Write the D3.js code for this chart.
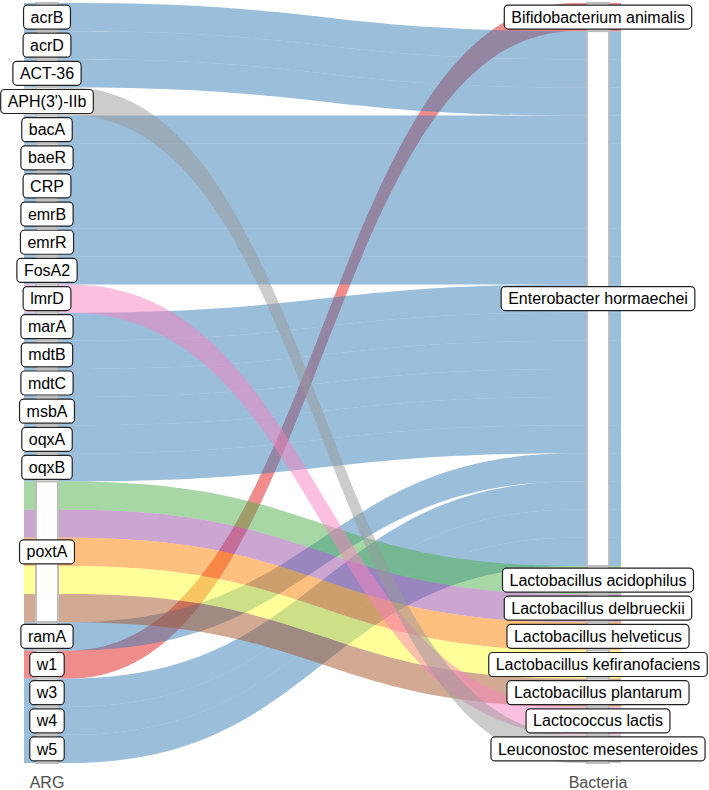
<!DOCTYPE html>
<html>
<head>
<meta charset="utf-8">
<script src="https://cdn.jsdelivr.net/npm/d3@7"></script>
<style>
  body { margin: 0; background: #fff; }
  svg { display: block; font-family: "Liberation Sans", Arial, Helvetica, sans-serif; }
</style>
</head>
<body>
<svg id="chart" width="709" height="790"></svg>
<script>
// axes of the alluvial plot
var axes = ["ARG", "Bacteria"];

// strata on each axis, top to bottom
var args = ["acrB", "acrD", "ACT-36", "APH(3')-IIb", "bacA", "baeR", "CRP", "emrB", "emrR",
  "FosA2", "lmrD", "marA", "mdtB", "mdtC", "msbA", "oqxA", "oqxB", "poxtA", "ramA",
  "w1", "w3", "w4", "w5"];
var bacteria = ["Bifidobacterium animalis", "Enterobacter hormaechei", "Lactobacillus acidophilus",
  "Lactobacillus delbrueckii", "Lactobacillus helveticus", "Lactobacillus kefiranofaciens",
  "Lactobacillus plantarum", "Lactococcus lactis", "Leuconostoc mesenteroides"];

// flows: ARG -> Bacteria, with count
var flowArg = ["acrB", "acrD", "ACT-36", "APH(3')-IIb", "bacA", "baeR", "CRP", "emrB", "emrR",
  "FosA2", "lmrD", "marA", "mdtB", "mdtC", "msbA", "oqxA", "oqxB",
  "poxtA", "poxtA", "poxtA", "poxtA", "poxtA", "ramA", "w1", "w3", "w4", "w5"];
var flowBac = ["Enterobacter hormaechei", "Enterobacter hormaechei", "Enterobacter hormaechei",
  "Leuconostoc mesenteroides", "Enterobacter hormaechei", "Enterobacter hormaechei",
  "Enterobacter hormaechei", "Enterobacter hormaechei", "Enterobacter hormaechei",
  "Enterobacter hormaechei", "Lactococcus lactis", "Enterobacter hormaechei",
  "Enterobacter hormaechei", "Enterobacter hormaechei", "Enterobacter hormaechei",
  "Enterobacter hormaechei", "Enterobacter hormaechei",
  "Lactobacillus acidophilus", "Lactobacillus delbrueckii", "Lactobacillus helveticus",
  "Lactobacillus kefiranofaciens", "Lactobacillus plantarum",
  "Enterobacter hormaechei", "Bifidobacterium animalis", "Enterobacter hormaechei",
  "Enterobacter hormaechei", "Enterobacter hormaechei"];
var flowCount = [1, 1, 1, 1, 1, 1, 1, 1, 1, 1, 1, 1, 1, 1, 1, 1, 1, 1, 1, 1, 1, 1, 1, 1, 1, 1, 1];

var svg = d3.select("#chart");

var flows = flowArg.map(function(a, i) {
  return { arg: a, bac: flowBac[i], n: flowCount[i], ai: args.indexOf(a), bi: bacteria.indexOf(flowBac[i]) };
});
var total = d3.sum(flows, function(d) { return d.n; });

var x = d3.scalePoint().domain(axes).range([47, 598]);
var y = d3.scaleLinear().domain([0, total]).range([3, 763]);
var color = d3.scaleOrdinal().domain(bacteria).range(d3.schemeSet1);

var alluvHalf = 23, stratHalf = 11;

// stack flows on the left axis (by ARG, then bacteria)
var leftNodes = [], pos = 0;
args.forEach(function(a) {
  var fs = flows.filter(function(f) { return f.arg == a; }).sort(function(p, q) { return p.bi - q.bi; });
  var start = pos;
  fs.forEach(function(f) { f.y0 = pos; pos += f.n; f.y0b = pos; });
  leftNodes.push({ name: a, y0: start, y1: pos });
});
// stack flows on the right axis (by bacteria, then ARG)
var rightNodes = [];
pos = 0;
bacteria.forEach(function(b) {
  var fs = flows.filter(function(f) { return f.bac == b; }).sort(function(p, q) { return p.ai - q.ai; });
  var start = pos;
  fs.forEach(function(f) { f.y1 = pos; pos += f.n; f.y1b = pos; });
  rightNodes.push({ name: b, y0: start, y1: pos });
});

function flowPath(f) {
  var xa = x("ARG") - alluvHalf, xb = x("ARG") + alluvHalf;
  var xc = x("Bacteria") - alluvHalf, xd = x("Bacteria") + alluvHalf;
  var xm = (xb + xc) / 2;
  var t0 = y(f.y0), b0 = y(f.y0b), t1 = y(f.y1), b1 = y(f.y1b);
  return "M" + xa + "," + t0 + "L" + xb + "," + t0 +
    "C" + xm + "," + t0 + " " + xm + "," + t1 + " " + xc + "," + t1 +
    "L" + xd + "," + t1 + "L" + xd + "," + b1 + "L" + xc + "," + b1 +
    "C" + xm + "," + b1 + " " + xm + "," + b0 + " " + xb + "," + b0 +
    "L" + xa + "," + b0 + "Z";
}

// alluvia, drawn by fill group
svg.append("g").selectAll("path")
  .data(flows.slice().sort(function(p, q) { return p.bi - q.bi || p.ai - q.ai; }))
  .enter().append("path")
  .attr("d", flowPath)
  .attr("fill", function(d) { return color(d.bac); })
  .attr("fill-opacity", 0.5);

// strata
function drawStrata(nodes, axis) {
  svg.append("g").selectAll("rect")
    .data(nodes).enter().append("rect")
    .attr("x", x(axis) - stratHalf)
    .attr("width", stratHalf * 2)
    .attr("y", function(d) { return y(d.y0); })
    .attr("height", function(d) { return y(d.y1) - y(d.y0); })
    .attr("fill", "#fff")
    .attr("stroke", "#bebebe")
    .attr("stroke-width", 2);
}
drawStrata(leftNodes, "ARG");
drawStrata(rightNodes, "Bacteria");

// stratum labels
function drawLabels(nodes, axis) {
  var g = svg.append("g").selectAll("g")
    .data(nodes).enter().append("g")
    .attr("transform", function(d) { return "translate(" + x(axis) + "," + y((d.y0 + d.y1) / 2) + ")"; });
  var box = g.append("rect");
  var txt = g.append("text")
    .attr("text-anchor", "middle")
    .attr("dy", "0.35em")
    .attr("font-size", 16)
    .attr("fill", "#000")
    .text(function(d) { return d.name; });
  txt.each(function(d) { d.tw = this.getComputedTextLength(); });
  box.attr("x", function(d) { return -d.tw / 2 - 7; })
    .attr("width", function(d) { return d.tw + 14; })
    .attr("y", -12)
    .attr("height", 24)
    .attr("rx", 4)
    .attr("fill", "#fff")
    .attr("stroke", "#222")
    .attr("stroke-width", 1.2);
}
drawLabels(leftNodes, "ARG");
drawLabels(rightNodes, "Bacteria");

// axis labels
svg.append("g").selectAll("text")
  .data(axes).enter().append("text")
  .attr("x", function(d) { return x(d); })
  .attr("y", 788)
  .attr("text-anchor", "middle")
  .attr("font-size", 16)
  .attr("fill", "#4d4d4d")
  .text(function(d) { return d; });
</script>
</body>
</html>
